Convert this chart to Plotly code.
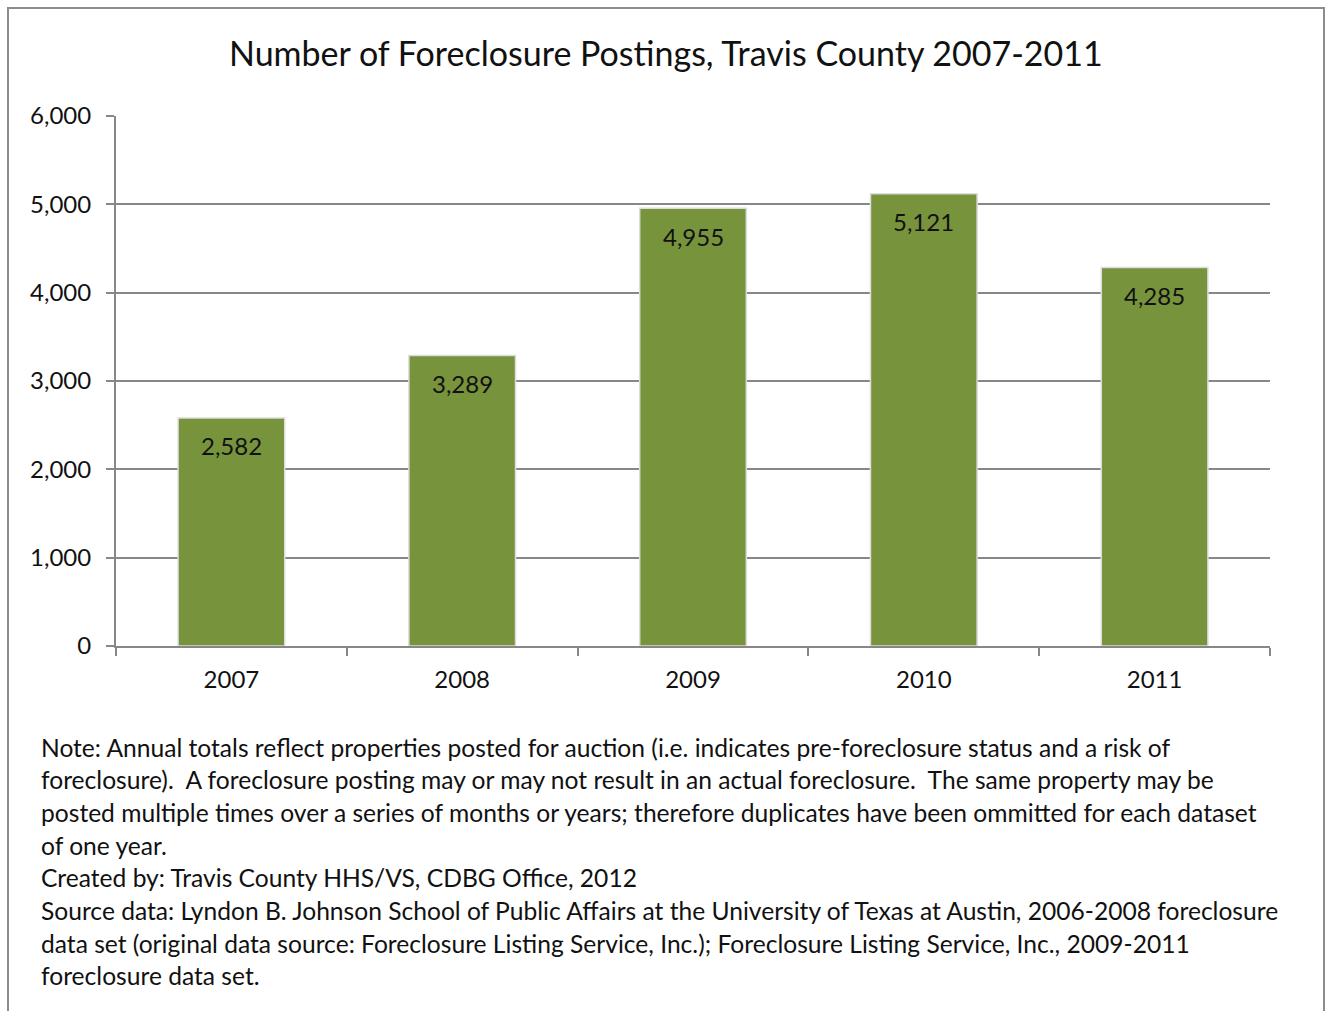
import plotly.graph_objects as go

# Annual foreclosure postings, Travis County
years = ["2007", "2008", "2009", "2010", "2011"]
postings = [2582, 3289, 4955, 5121, 4285]

y_ticks = [0, 1000, 2000, 3000, 4000, 5000, 6000]
y_tick_text = [f"{v:,}" for v in y_ticks]

title_text = "Number of Foreclosure Postings, Travis County 2007-2011"
note_lines = [
    "Note: Annual totals reflect properties posted for auction (i.e. indicates pre-foreclosure status and a risk of",
    "foreclosure).  A foreclosure posting may or may not result in an actual foreclosure.  The same property may be",
    "posted multiple times over a series of months or years; therefore duplicates have been ommitted for each dataset",
    "of one year.",
    "Created by: Travis County HHS/VS, CDBG Office, 2012",
    "Source data: Lyndon B. Johnson School of Public Affairs at the University of Texas at Austin, 2006-2008 foreclosure",
    "data set (original data source: Foreclosure Listing Service, Inc.); Foreclosure Listing Service, Inc., 2009-2011",
    "foreclosure data set.",
]

FONT = "Lato"
GRID = "#878787"
BAR = "#77933C"
TXT = "#111111"

W, H = 1325, 1011
L, R, T, B = 116, 55, 116, 365
pw, ph = W - L - R, H - T - B


def px_x(p):
    return (p - L) / pw


def px_y(p):
    return (H - B - p) / ph


fig = go.Figure()
fig.add_trace(go.Bar(
    x=years,
    y=postings,
    marker=dict(color=BAR, line=dict(color="#dcdcdc", width=1.5)),
    hoverinfo="x+y",
))

# value labels just inside the top of each bar (category index positions)
for i, v in enumerate(postings):
    fig.add_annotation(
        x=i, y=v, text=f"{v:,}", showarrow=False, yanchor="middle",
        yshift=-28, font=dict(family=FONT, size=24, color=TXT),
    )

# title
fig.add_annotation(
    x=px_x(666), y=px_y(52), xref="paper", yref="paper", text=title_text,
    showarrow=False, xanchor="center", yanchor="middle",
    font=dict(family=FONT, size=34, color=TXT),
)

# footnote block
for i, line in enumerate(note_lines):
    fig.add_annotation(
        x=px_x(39), y=px_y(747 + i * 32.7), xref="paper", yref="paper",
        text=line, showarrow=False, xanchor="left", yanchor="middle",
        font=dict(family=FONT, size=24.6, color=TXT),
    )

# outer frame
fig.add_shape(
    type="rect", xref="paper", yref="paper",
    x0=px_x(8), x1=px_x(1324), y0=px_y(1030), y1=px_y(8),
    line=dict(color="#8c8c8c", width=2), layer="below",
)

fig.update_layout(
    width=W, height=H,
    margin=dict(l=L, r=R, t=T, b=B),
    paper_bgcolor="white", plot_bgcolor="white",
    bargap=0.538,
    showlegend=False,
    font=dict(family=FONT, size=24, color=TXT),
)
fig.update_xaxes(
    type="category", categoryorder="array", categoryarray=years,
    range=[-0.5, len(years) - 0.5], tickangle=0,
    tickson="boundaries", ticks="outside", ticklen=8,
    tickcolor=GRID, tickwidth=2, showline=True, linecolor=GRID, linewidth=2,
    showgrid=False, ticklabelstandoff=11,
    tickfont=dict(family=FONT, size=24, color=TXT),
)
fig.update_yaxes(
    range=[0, 6000], tickvals=y_ticks, ticktext=y_tick_text,
    ticks="outside", ticklen=8, tickcolor=GRID, tickwidth=2,
    showline=True, linecolor=GRID, linewidth=2,
    showgrid=True, gridcolor=GRID, gridwidth=2, zeroline=False,
    ticklabelstandoff=10,
    tickfont=dict(family=FONT, size=24, color=TXT),
)

fig.write_html("out.html")
